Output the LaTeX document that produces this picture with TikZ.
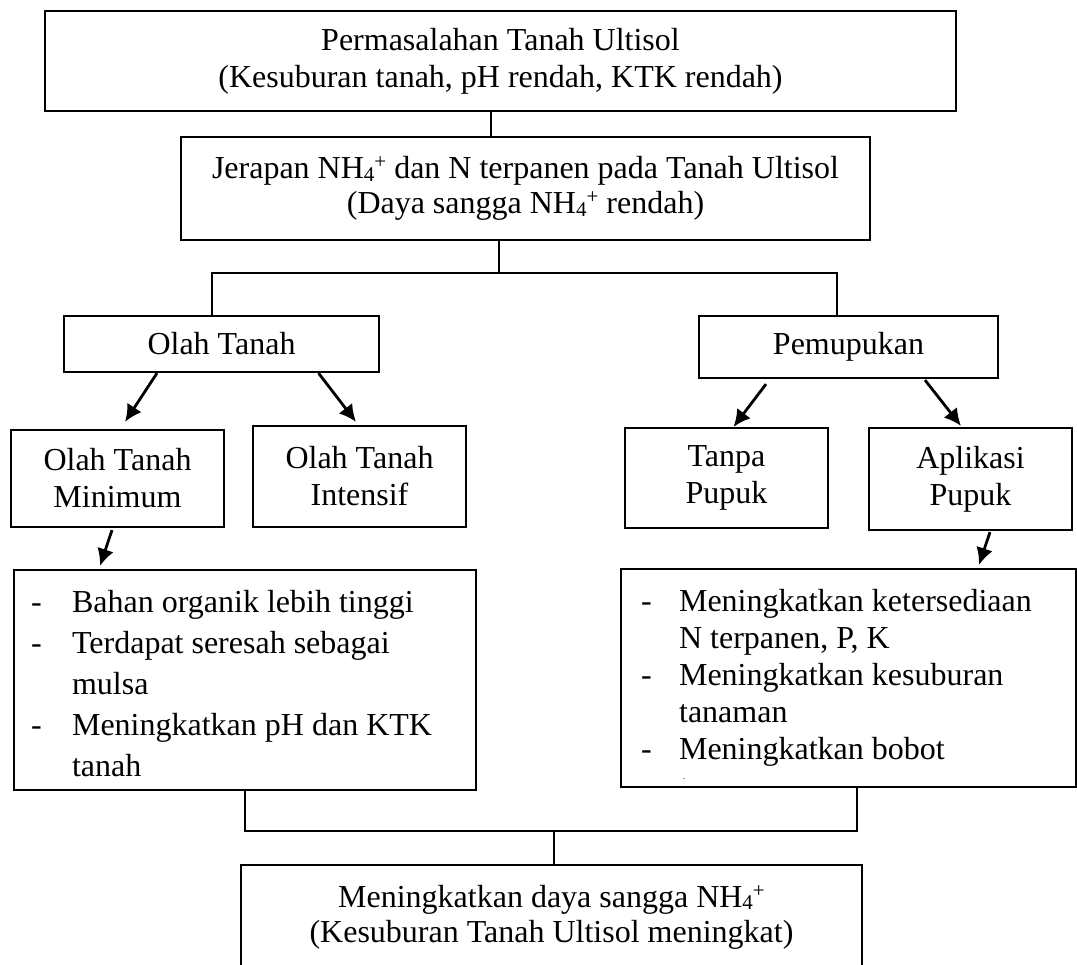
\documentclass[tikz,border=0pt]{standalone}
\usepackage{fontspec}
\setmainfont{Liberation Serif}
\usetikzlibrary{arrows.meta,positioning}
\newcommand{\nhplus}{NH\raisebox{-2.5pt}{\fontsize{21}{21}\selectfont 4}\raisebox{10pt}{\fontsize{21}{21}\selectfont +}}
\newcommand{\dashitem}[1]{\makebox[#1][l]{-}}

\begin{document}
\begin{tikzpicture}[x=1pt,y=-1pt,font=\fontsize{32}{37}\selectfont,
  box/.style={draw,line width=2.2pt,inner sep=0pt,align=center},
  listtext/.style={anchor=north west,align=left,inner sep=0pt},
  link/.style={line width=1.2pt},
  arr/.style={line width=2.8pt,-{Latex[length=17pt,width=17pt]}}]
\useasboundingbox (0,0) rectangle (1077,965);
%problem and adsorption boxes
\node[box,minimum width=911,minimum height=100] (prob) at (500.5,61) {Permasalahan Tanah Ultisol\\(Kesuburan tanah, pH rendah, KTK rendah)};
\node[box,minimum width=689,minimum height=103,font=\fontsize{32}{35}\selectfont] (jerap) at (525.5,188.5) {Jerapan \nhplus{} dan N terpanen pada Tanah Ultisol\\(Daya sangga \nhplus{} rendah)};
\coordinate (c1) at ([xshift=-9.5]prob.south);
\draw[link] (c1) -- (c1 |- jerap.north);
%the two treatments
\node[box,minimum width=315,minimum height=56] (olah) at (221.5,344) {Olah Tanah};
\node[box,minimum width=299,minimum height=62] (pupuk) at (848.5,347) {Pemupukan};
\coordinate (c2) at ([xshift=-26.5]jerap.south);
\coordinate (split) at ([yshift=-32]c2);
\coordinate (c3) at ([xshift=-9.5]olah.north);
\coordinate (c4) at ([xshift=-11.5]pupuk.north);
\draw[link] (c2) -- (split);
\draw[link] (c3) |- (split) -| (c4);
%levels of each treatment
\node[box,minimum width=213,minimum height=97] (otmin) at (117.5,478.5) {Olah Tanah\\Minimum};
\node[box,minimum width=213,minimum height=101] (otint) at (359.5,476.5) {Olah Tanah\\Intensif};
\node[box,minimum width=203,minimum height=100] (tanpa) at (726.5,478) {Tanpa\\Pupuk};
\node[box,minimum width=203,minimum height=102] (aplik) at (970.5,479) {Aplikasi\\Pupuk};
\draw[arr] ([xshift=-64.5]olah.south) -- ([xshift=7.5,yshift=7]otmin.north);
\draw[arr] ([xshift=97]olah.south) -- ([xshift=-3.5,yshift=3]otint.north);
\draw[arr] ([xshift=-82.5,yshift=-5]pupuk.south) -- ([xshift=7]tanpa.north);
\draw[arr] ([xshift=76.5,yshift=-1]pupuk.south) -- ([xshift=-9.5,yshift=1]aplik.north);
%effects
\node[box,minimum width=462,minimum height=220] (minbox) at (245,680) {};
\node[listtext,font=\fontsize{32}{41}\selectfont] (mintxt) at ([xshift=18,yshift=-21]minbox.north west)
  {\dashitem{41pt}Bahan organik lebih tinggi\\ \dashitem{41pt}Terdapat seresah sebagai\\ \hspace*{41pt}mulsa\\ \dashitem{41pt}Meningkatkan pH dan KTK\\ \hspace*{41pt}tanah};
\node[box,minimum width=455,minimum height=218] (appbox) at (848.5,678) {};
\node[listtext] (apptxt) at ([xshift=21,yshift=-21]appbox.north west)
  {\dashitem{38pt}Meningkatkan ketersediaan\\ \hspace*{38pt}N terpanen, P, K\\ \dashitem{38pt}Meningkatkan kesuburan\\ \hspace*{38pt}tanaman\\ \dashitem{38pt}Meningkatkan bobot\\[-17pt] \hspace*{42pt}{\fontsize{9}{9}\selectfont .}};
\draw[arr] ([xshift=-5.5,yshift=-2]otmin.south) -- ([xshift=-145,yshift=3]minbox.north);
\draw[arr] ([xshift=19.5,yshift=-1]aplik.south) -- ([xshift=130.5,yshift=3]appbox.north);
%result
\node[box,minimum width=621,minimum height=104,font=\fontsize{32}{35}\selectfont] (result) at (551.5,917) {Meningkatkan daya sangga \nhplus\\(Kesuburan Tanah Ultisol meningkat)};
\coordinate (join) at ([xshift=2.5,yshift=33]result.north);
\draw[link] (minbox.south) |- (join) -| ([xshift=8.5]appbox.south);
\draw[link] (join) -- ([xshift=2.5]result.north);
\end{tikzpicture}
\end{document}
